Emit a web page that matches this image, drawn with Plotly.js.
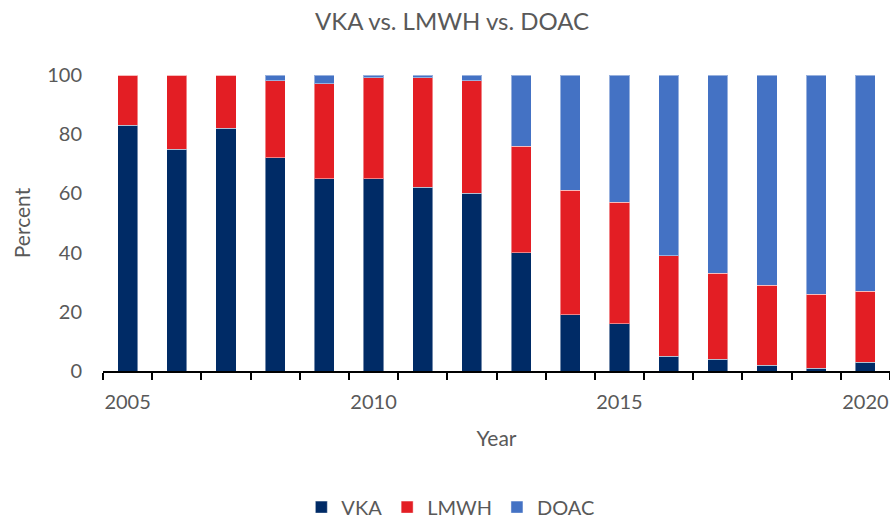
<!DOCTYPE html>
<html>
<head>
<meta charset="utf-8">
<script src="https://cdn.plot.ly/plotly-3.0.1.min.js"></script>
<style>html,body{margin:0;padding:0;background:#fff}#chart{width:890px;height:518px}</style>
</head>
<body>
<div id="chart"></div>
<script>
const years = [2005,2006,2007,2008,2009,2010,2011,2012,2013,2014,2015,2016,2017,2018,2019,2020];
const vka  = [83,75,82,72,65,65,62,60,40,19,16,5,4,2,1,3];
const lmwh = [17,25,18,26,32,34,37,38,36,42,41,34,29,27,25,24];
const doac = [0,0,0,2,3,1,1,2,24,39,43,61,67,71,74,73];
const seriesNames = ['VKA','LMWH','DOAC'];
const colors = ['#002B66','#E31E24','#4472C4'];

const cats = years.map(String);
const tickText = years.map(y => (y % 5 === 0 ? String(y) : ''));
const font = {family: 'Lato, "Open Sans", sans-serif', color: '#595959'};

const traces = [vka, lmwh, doac].map((vals, i) => ({
  type: 'bar',
  x: cats,
  y: vals,
  name: seriesNames[i],
  marker: {color: colors[i], line: {color: 'rgba(255,255,255,0.45)', width: 1}},
  hoverinfo: 'x+y+name'
}));

const layout = {
  width: 890, height: 518,
  margin: {l: 103, r: 0, t: 75, b: 147},
  paper_bgcolor: '#fff', plot_bgcolor: '#fff',
  font: Object.assign({size: 20}, font),
  barmode: 'stack',
  bargap: 0.59,
  title: {text: 'VKA vs. LMWH vs. DOAC', font: Object.assign({size: 24}, font),
          xref: 'container', x: 0.508, xanchor: 'center', yref: 'container', y: 0.958, yanchor: 'middle'},
  xaxis: {
    type: 'category',
    tickmode: 'array', tickvals: cats, ticktext: tickText,
    tickson: 'boundaries', tickangle: 0,
    ticks: 'outside', ticklen: 7, tickwidth: 2, tickcolor: '#000',
    ticklabelstandoff: 12,
    showline: true, linecolor: '#000', linewidth: 2,
    showgrid: false, zeroline: false,
    tickfont: Object.assign({size: 20}, font),
    title: {text: 'Year', font: Object.assign({size: 21}, font), standoff: 19}
  },
  yaxis: {
    range: [0, 100],
    tickmode: 'array', tickvals: [0,20,40,60,80,100],
    showline: false, showgrid: false, zeroline: false,
    ticks: '', ticklabelstandoff: 20,
    tickfont: Object.assign({size: 20}, font),
    title: {text: 'Percent', font: Object.assign({size: 21}, font), standoff: 10}
  },
  showlegend: true,
  legend: {orientation: 'h', traceorder: 'normal', xref: 'container', x: 0.506, xanchor: 'center',
           yref: 'container', y: 0.021, yanchor: 'middle',
           font: Object.assign({size: 20}, font), tracegroupgap: 0}
};

Plotly.newPlot('chart', traces, layout, {displayModeBar: false, staticPlot: true});
</script>
</body>
</html>
